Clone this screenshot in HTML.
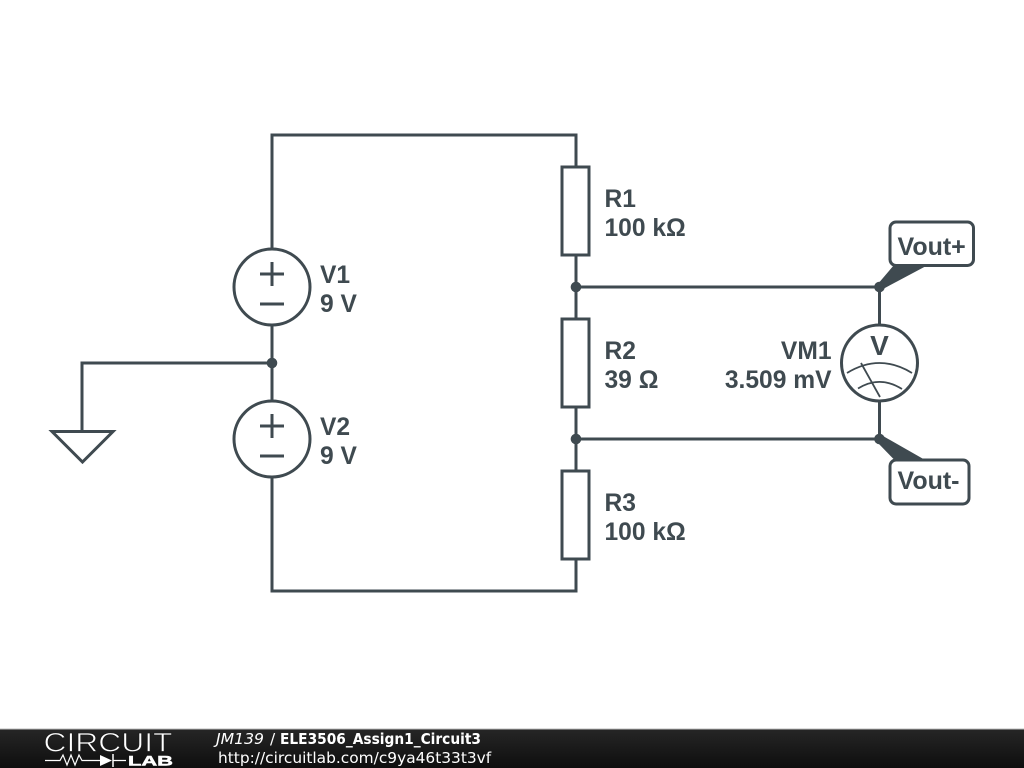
<!DOCTYPE html>
<html><head><meta charset="utf-8">
<style>
html,body{margin:0;padding:0;background:#fff;width:1024px;height:768px;overflow:hidden}
svg{display:block}
.l{font-family:"Liberation Sans",sans-serif;font-weight:bold;font-size:24.6px;fill:#3f4a50}
.f{font-family:"DejaVu Sans",sans-serif;font-size:15.4px;fill:#fff}
</style></head><body>
<svg width="1024" height="768" viewBox="0 0 1024 768" xmlns="http://www.w3.org/2000/svg">
<defs><linearGradient id="g" x1="0" y1="0" x2="0" y2="1"><stop offset="0" stop-color="#262626"/><stop offset="1" stop-color="#0e0e0e"/></linearGradient></defs>
<g fill="none" stroke="#3f4a50" stroke-width="3">
<path d="M272 249V135H576V167"/>
<path d="M576 255V319M576 407V471M576 559V591H272V477"/>
<path d="M272 325V401"/>
<path d="M272 363H82V431"/>
<path d="M52 431.500H113L82.500 462Z" stroke-linejoin="miter"/>
<circle cx="272" cy="287" r="38"/>
<circle cx="272" cy="439" r="38"/>
<path d="M272 262V286M260 274H284M260 304H284"/>
<path d="M272 414V438M260 426H284M260 456H284"/>
<rect x="562" y="167" width="27" height="88"/>
<rect x="562" y="319" width="27" height="88"/>
<rect x="562" y="471" width="27" height="88"/>
<path d="M576 287H879.500V325M576 439H879.500V401"/>
<circle cx="879.500" cy="363" r="38"/>
<rect x="890" y="222" width="83.500" height="43.500" rx="6"/>
<rect x="890" y="460" width="79" height="44" rx="6"/>
</g>
<g fill="none" stroke="#3f4a50" stroke-width="1.800">
<path d="M847 373Q879.500 353 912 373"/>
<path d="M858 388.500Q880 375 902 389"/>
<path d="M861 363L880 397"/>
</g>
<g fill="#3f4a50">
<circle cx="272" cy="363" r="5.300"/>
<circle cx="576" cy="287" r="5.300"/>
<circle cx="576" cy="439" r="5.300"/>
<circle cx="879.500" cy="287" r="5.300"/>
<circle cx="879.500" cy="439" r="5.300"/>
<path d="M877 285L894 265H928L883 289Z"/>
<path d="M883 436L926 460.500H895L877 442Z"/>
</g>
<text class="l" x="604.500" y="207">R1</text>
<text class="l" x="604.500" y="236">100 kΩ</text>
<text class="l" x="604.500" y="359">R2</text>
<text class="l" x="604.500" y="388">39 Ω</text>
<text class="l" x="604.500" y="511">R3</text>
<text class="l" x="604.500" y="540">100 kΩ</text>
<text class="l" x="320" y="283">V1</text>
<text class="l" x="320" y="312">9 V</text>
<text class="l" x="320" y="435">V2</text>
<text class="l" x="320" y="464">9 V</text>
<text class="l" x="831.500" y="359" text-anchor="end">VM1</text>
<text class="l" x="831.500" y="388" text-anchor="end">3.509 mV</text>
<text class="l" x="879.500" y="355" text-anchor="middle" style="font-size:28px">V</text>
<text class="l" x="897.500" y="255" style="font-size:25px">Vout+</text>
<text class="l" x="897.500" y="489" style="font-size:25px">Vout-</text>
<rect x="0" y="729" width="1024" height="39" fill="url(#g)"/>
<rect x="0" y="728.500" width="1024" height="1" fill="#bbbbbb"/>
<text x="43.500" y="751.500" textLength="129" lengthAdjust="spacingAndGlyphs" style="font-family:'Liberation Sans',sans-serif;font-size:27px;fill:#fff;stroke:#1c1c1c;stroke-width:0.800px">CIRCUIT</text>
<path d="M45 760.500H60L63 755L67 765L71 755L75 765L79 755L82 760.500H100M113 760.500H126" fill="none" stroke="#fff" stroke-width="1.200"/>
<path d="M100 755L112 760.500L100 766Z" fill="#fff"/>
<path d="M113 754V767" stroke="#fff" stroke-width="1.500"/>
<text x="128" y="765.500" textLength="45" lengthAdjust="spacingAndGlyphs" style="font-family:'Liberation Sans',sans-serif;font-weight:bold;font-size:14px;fill:#fff;stroke:#fff;stroke-width:0.500px">LAB</text>
<text class="f" x="216" y="744" font-style="italic" textLength="48" lengthAdjust="spacingAndGlyphs">JM139</text>
<text class="f" x="270" y="744">/</text>
<text class="f" x="280" y="744" font-weight="bold" textLength="201" lengthAdjust="spacingAndGlyphs">ELE3506_Assign1_Circuit3</text>
<text class="f" x="218" y="763">http://circuitlab.com/c9ya46t33t3vf</text>
</svg>
</body></html>
